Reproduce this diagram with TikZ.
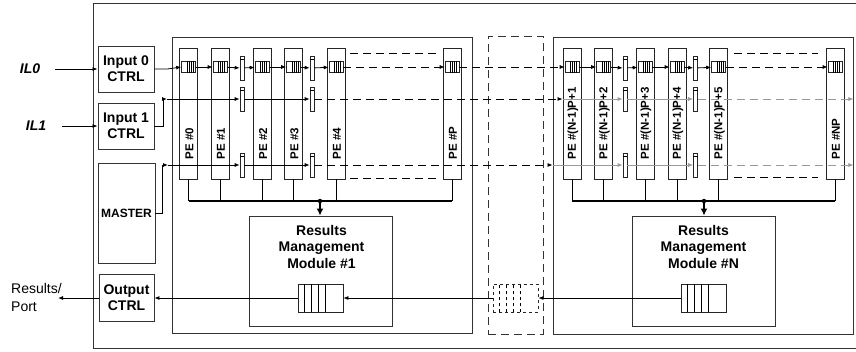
\documentclass[tikz,border=0pt]{standalone}
\usepackage{fontspec}
\setmainfont{Liberation Sans}
\usetikzlibrary{calc,arrows.meta}
\tikzset{
  frame/.style={draw=black!80, line width=0.9pt},
  module/.style={draw=black!80, line width=0.9pt, inner sep=0pt},
  ctrl/.style={draw=black!80, line width=0.9pt, fill=white, inner sep=0pt, align=center,
    font=\fontsize{14}{16}\selectfont\bfseries},
  pebox/.style={draw=black!85, line width=0.9pt, fill=white, minimum width=18pt,
    minimum height=131pt, inner sep=0pt},
  pelabel/.style={rotate=90, anchor=west, inner sep=0pt, font=\fontsize{11.5}{13}\selectfont\bfseries},
  fifo/.style={draw=black!85, line width=0.6pt, fill=white, minimum width=14pt,
    minimum height=11pt, inner sep=0pt},
  buf/.style={draw=black!85, line width=0.6pt, fill=white, minimum width=4pt,
    minimum height=24pt, inner sep=0pt},
  resq/.style={draw=black!85, line width=0.8pt, fill=white, minimum width=45pt,
    minimum height=28pt, inner sep=0pt},
  flow/.style={line width=0.8pt, -{Latex[length=5pt,width=4pt]}},
  flowdash/.style={flow, dash pattern=on 8pt off 5pt},
  ghost/.style={flow, black!40},
  gapline/.style={line width=0.9pt, dash pattern=on 8pt off 5pt},
  bus/.style={line width=1.6pt},
  tap/.style={line width=0.8pt},
  drop/.style={line width=1.6pt, -{Latex[length=7pt,width=7pt]}},
}

\begin{document}
\begin{tikzpicture}[x=1pt,y=-1pt]
        \useasboundingbox (0,0) rectangle (856,351);
        % outer frame and the three module areas
        \draw[frame] (93,3) rectangle (860,348);
        \node[module, minimum width=300pt, minimum height=296pt] (modL) at (322,185) {};
        \node[module, minimum width=300pt, minimum height=297pt] (modR) at (703,185.5) {};
        \node[module, dash pattern=on 8pt off 5pt, minimum width=55pt, minimum height=298pt] (modM) at (515.5,185) {};

        % control blocks
        \node[ctrl, minimum width=56pt, minimum height=46pt] (in0) at (126,69) {Input 0\\CTRL};
        \node[ctrl, minimum width=56pt, minimum height=46pt] (in1) at (126,126) {Input 1\\CTRL};
        \node[ctrl, minimum width=57pt, minimum height=100pt, font=\fontsize{12}{13}\selectfont\bfseries]
          (mst) at (126.5,213) {MASTER};
        \node[ctrl, minimum width=55pt, minimum height=47pt] (out) at (126.5,298) {Output\\CTRL};

        % inputs and output port
        \node[font=\fontsize{14}{16}\selectfont\bfseries\itshape] (il0) at (30,69) {IL0};
        \node[font=\fontsize{14}{16}\selectfont\bfseries\itshape] (il1) at (36,126) {IL1};
        \coordinate (il0e) at (55,69);
        \coordinate (il1e) at (62,126);
        \draw[flow] (il0e) -- (in0);
        \draw[flow] (il1e) -- (in1);
        \node[anchor=west, align=left, inner sep=0pt, font=\fontsize{14}{18}\selectfont] (res) at (11,297) {Results/\\Port};
        \coordinate (resport) at (58,298);

        % processing elements
        \foreach \n/\x/\t in {0/188.5/0, 1/220/1, 2/262/2, 3/293.5/3, 4/336/4, P/452/P,
                              N1/572/(N-1)P+1, N2/603.5/(N-1)P+2, N3/645/(N-1)P+3,
                              N4/677/(N-1)P+4, N5/718.5/(N-1)P+5, NP/835/NP}{
          \node[pebox] (pe\n) at (\x,113.5) {};
          \node[pelabel] (pl\n) at ($(pe\n.south)+(1,-20)$) {PE \#\t};
          \node[fifo] (q\n) at (\x,67) {};
          \foreach \d in {6,8,10,12}
            \draw[line width=0.5pt] ($(q\n.south west)+(\d,0)$) -- ($(q\n.north west)+(\d,0)$);
        }

        % buffers between PEs
        \foreach \bx/\xx in {1/242, 2/312, 3/625, 4/695.5}
          \foreach \rw/\yy in {1/68, 2/99, 3/165}{
            \node[buf] (b\bx\rw) at (\xx,\yy) {};
            \draw[line width=0.5pt] ($(b\bx\rw.north west)+(0,4)$) -- ($(b\bx\rw.north east)+(0,4)$);
          }

        % row 1: input 0 chain
        \draw[flow] (in0.east) -- ++(13,0) -- (q0.west);
        \foreach \m/\n in {q0/q1, q1/b11, b11/q2, q2/q3, q3/b21, b21/q4,
                           qN1/qN2, qN2/b31, b31/qN3, qN3/qN4, qN4/b41, b41/qN5}
          \draw[flow] (\m) -- (\n);
        \draw[flowdash] (q4) -- (qP);
        \draw[flowdash] (qP) -- (qN1);
        \draw[flowdash] (qN5) -- (qNP);

        % row 2: input 1
        \coordinate (r2in) at (167,99);
        \draw[flow] (in1.east) -- ++(9,0) |- (r2in);
        \draw[flow] (r2in) -- (b12);
        \draw[flow] (b12) -- (b22);
        \draw[flowdash] (b22) -- (b22 -| peN1.west);
        \draw[ghost] (b22 -| peN1.west) -- (b32);
        \draw[ghost] (b32) -- (b42);
        \draw[ghost, dash pattern=on 8pt off 5pt] (b42) -- (b42 -| modR.east);

        % row 3: master
        \coordinate (r3in) at (168,165);
        \draw[flow] (mst.east) -- ++(7,0) |- (r3in);
        \draw[flow] (r3in) -- (b13);
        \draw[flow] (b13) -- (b23);
        \draw[flowdash] (b23) -- (b23 -| modR.west);
        \draw[ghost] (b23 -| modR.west) -- (b33);
        \draw[ghost] (b33) -- (b43);
        \draw[ghost, dash pattern=on 8pt off 5pt] (b43) -- (b43 -| modR.east);

        % PEs not shown
        \draw[gapline] (350,53) -- (436,53);
        \draw[gapline] (350,178) -- (436,178);
        \draw[gapline] (734,53) -- (818,53);
        \draw[gapline] (734,177) -- (818,177);

        % result buses
        \coordinate (busL) at (320,201);
        \coordinate (busR) at (704,201);
        \foreach \n in {0,1,2,3,4,P}
          \draw[tap] (pe\n.south) -- (pe\n.south |- busL);
        \foreach \n in {N1,N2,N3,N4,N5,NP}
          \draw[tap] (pe\n.south) -- (pe\n.south |- busR);
        \draw[bus] (pe0.south |- busL) -- (peP.south |- busL);
        \draw[bus] (peN1.south |- busR) -- (peNP.south |- busR);

        % results management modules
        \node[module, fill=white, minimum width=143pt, minimum height=110pt] (rm1) at (320.5,271) {};
        \node[module, fill=white, minimum width=143pt, minimum height=110pt] (rmN) at (703.5,271) {};
        \node[align=center, font=\fontsize{14}{16.5}\selectfont\bfseries] (rt1) at ($(rm1.north)+(1,31)$)
          {Results\\Management\\Module \#1};
        \node[align=center, font=\fontsize{14}{16.5}\selectfont\bfseries] (rtN) at ($(rmN.north)+(0,31)$)
          {Results\\Management\\Module \#N};
        \fill (busL) circle (2.2pt);
        \fill (busR) circle (2.2pt);
        \draw[drop] (busL) -- (busL |- rm1.north);
        \draw[drop] (busR) -- (busR |- rmN.north);

        % result queues
        \node[resq] (rq1) at (320.5,298) {};
        \node[resq] (rqN) at (703.5,298) {};
        \node[resq, dashed] (mq) at (515.5,298) {};
        \foreach \d in {7,14,21,28}{
          \draw[line width=0.8pt] ($(rq1.south west)+(\d,0)$) -- ($(rq1.north west)+(\d,0)$);
          \draw[line width=0.8pt] ($(rqN.south west)+(\d,0)$) -- ($(rqN.north west)+(\d,0)$);
          \draw[line width=0.8pt, dashed] ($(mq.south west)+(\d,0)$) -- ($(mq.north west)+(\d,0)$);
        }

        % results path to the port
        \draw[flow] (rqN) -- (mq);
        \draw[flow] (mq) -- (rq1);
        \draw[flow] (rq1) -- (out);
        \draw[flow] (out) -- (resport);
    \end{tikzpicture}
\end{document}
